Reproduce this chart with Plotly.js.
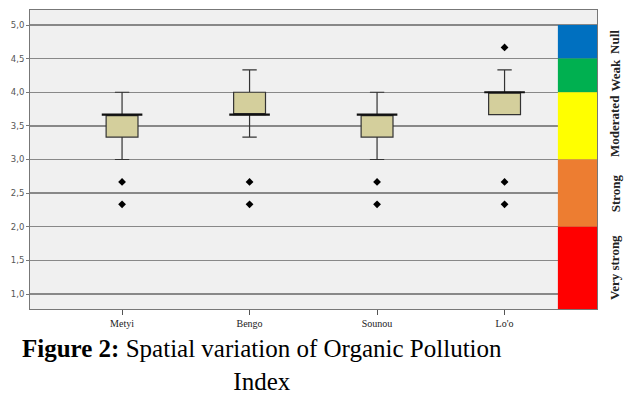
<!DOCTYPE html>
<html><head><meta charset="utf-8">
<script src="https://cdn.plot.ly/plotly-3.0.1.min.js"></script>
<style>html,body{margin:0;padding:0;background:#fff;}#chart{width:632px;height:396px;}</style>
</head><body><div id="chart"></div>
<script>
var categories = ['Metyi', 'Bengo', 'Sounou', "Lo'o"];
var lowerFence = [3.0, 3.333, 3.0, 3.667];
var q1 = [3.333, 3.667, 3.333, 3.667];
var medians = [3.667, 3.667, 3.667, 4.0];
var q3 = [3.667, 4.0, 3.667, 4.0];
var upperFence = [4.0, 4.333, 4.0, 4.333];
var outlierSite = ['Metyi', 'Metyi', 'Bengo', 'Bengo', 'Sounou', 'Sounou', "Lo'o", "Lo'o", "Lo'o"];
var outlierValue = [2.667, 2.333, 2.667, 2.333, 2.667, 2.333, 4.667, 2.667, 2.333];
var bandLabels = ['Null', 'Weak', 'Moderated', 'Strong', 'Very strong'];
var bandTop = [5.0, 4.5, 4.0, 3.0, 2.0];
var bandBottom = [4.5, 4.0, 3.0, 2.0, 0.777];
var bandColors = ['#0070C0', '#00B050', '#FFFF00', '#ED7D31', '#FF0000'];
var yTicks = [1.0, 1.5, 2.0, 2.5, 3.0, 3.5, 4.0, 4.5, 5.0];

var traces = [
  {
    type: 'box', x: categories, q1: q1, median: medians, q3: q3,
    lowerfence: lowerFence, upperfence: upperFence,
    width: 0.25, whiskerwidth: 0.45,
    fillcolor: '#D4CF9C', line: {color: '#333333', width: 1.2},
    boxpoints: false, showlegend: false, hoverinfo: 'skip'
  },
  {
    type: 'scatter', mode: 'markers', x: categories, y: medians,
    marker: {symbol: 'line-ew', size: 29, line: {color: '#111', width: 2.2}},
    showlegend: false, hoverinfo: 'skip'
  },
  {
    type: 'scatter', mode: 'markers', x: outlierSite, y: outlierValue,
    marker: {symbol: 'diamond', size: 6, color: '#000'},
    showlegend: false, hoverinfo: 'skip'
  }
];

var shapes = [];
var annotations = [];
for (var i = 0; i < bandLabels.length; i++) {
  shapes.push({type: 'rect', xref: 'paper', yref: 'y', x0: 0.931, x1: 1, y0: bandBottom[i], y1: bandTop[i],
    fillcolor: bandColors[i], line: {width: 0}, layer: 'above'});
  annotations.push({xref: 'paper', yref: 'y', x: 1.032, y: (bandTop[i] + bandBottom[i]) / 2,
    text: '<b>' + bandLabels[i] + '</b>', textangle: -90, showarrow: false,
    xanchor: 'center', yanchor: 'middle',
    font: {family: 'Liberation Serif', size: 13, color: '#222'}});
}
annotations.push({xref: 'paper', yref: 'paper', x: 0.409, y: -0.187, xanchor: 'center', yanchor: 'middle',
  showarrow: false, align: 'center',
  text: '<b>Figure 2:</b> Spatial variation of Organic Pollution<br>Index',
  font: {family: 'Liberation Serif', size: 25, color: '#000'}});

var layout = {
  width: 632, height: 396,
  margin: {l: 30, r: 35, t: 10, b: 87},
  paper_bgcolor: '#ffffff', plot_bgcolor: '#F0F0F0',
  separators: ',.',
  xaxis: {
    type: 'category', range: [-0.722, 3.725], showgrid: false, zeroline: false,
    showline: true, mirror: true, linecolor: '#777', linewidth: 1,
    ticks: 'outside', ticklen: 5, tickcolor: '#555',
    tickfont: {family: 'Liberation Serif', size: 10, color: '#222'}
  },
  yaxis: {
    range: [0.777, 5.223], tickvals: yTicks, tickformat: '.1f',
    showgrid: true, gridcolor: '#888888', gridwidth: 1.3, zeroline: false,
    showline: true, mirror: true, linecolor: '#777', linewidth: 1,
    ticks: 'outside', ticklen: 3, tickcolor: '#777',
    tickfont: {family: 'DejaVu Sans', size: 8.5, color: '#555'}
  },
  shapes: shapes,
  annotations: annotations
};

Plotly.newPlot('chart', traces, layout, {displayModeBar: false, staticPlot: true});
</script></body></html>
